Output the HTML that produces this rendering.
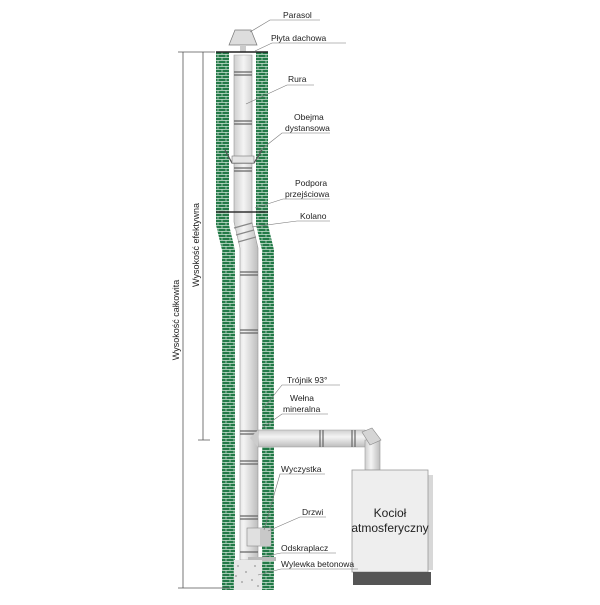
<!DOCTYPE html>
<html><head><meta charset="utf-8"><style>
body{margin:0;background:#fff}
svg text{font-family:"Liberation Sans",sans-serif;fill:#222}
</style></head><body>
<svg width="600" height="600" viewBox="0 0 600 600" xmlns="http://www.w3.org/2000/svg">
<defs>
<pattern id="br" width="8" height="6" patternUnits="userSpaceOnUse">
<rect width="8" height="6" fill="#237a48"/>
<path d="M0 0.4H8M0 3.4H8M2 0V3.4M6 3.4V6" stroke="#cfe3d5" stroke-width="0.7"/>
</pattern>
<linearGradient id="pg" x1="0" x2="1"><stop offset="0" stop-color="#cfcfcf"/><stop offset=".4" stop-color="#f4f4f4"/><stop offset="1" stop-color="#bdbdbd"/></linearGradient>
<linearGradient id="hg" x1="0" x2="0" y1="0" y2="1"><stop offset="0" stop-color="#cfcfcf"/><stop offset=".4" stop-color="#f4f4f4"/><stop offset="1" stop-color="#bdbdbd"/></linearGradient>
</defs>
<path d="M216 52H229V225L235 250V590H222V250L216 225Z" fill="url(#br)"/>
<path d="M256 52H268V225L274 250V590H262V250L256 225Z" fill="url(#br)"/>
<path d="M234 55H252V222L258 248V560H240V248L234 222Z" fill="url(#pg)" stroke="#999" stroke-width="0.6"/>
<g stroke="#666" stroke-width="1.2">
<path d="M234 72H252M234 75H252M234 121H252M234 124H252M234 168H252M234 171H252M240 272H258M240 275H258M240 330H258M240 333H258M240 431H258M240 434H258M240 461H258M240 464H258M240 516H258M240 519H258M240 552H258"/>
<path d="M234 228L252 223M236 235L254 230M238 242L256 237" stroke="#888"/>
</g>
<path d="M216 212H268" stroke="#333" stroke-width="1.5"/>
<path d="M225 150L232 163H254L262 150" fill="none" stroke="#555" stroke-width="1.2"/>
<rect x="232" y="156" width="22" height="7" fill="#e4e4e4" stroke="#777" stroke-width=".6"/>
<path d="M229 45L235 30H251L257 45Z" fill="#ddd" stroke="#777" stroke-width=".7"/>
<rect x="240" y="45" width="6" height="7" fill="#ccc"/>
<path d="M216 52H268" stroke="#222" stroke-width="1.5"/>
<path d="M258 430H365L372 440V447H258Z" fill="url(#hg)" stroke="#999" stroke-width=".6"/>
<path d="M250 438L258 430V447Z" fill="#ccc"/>
<g stroke="#666" stroke-width="1.2"><path d="M320 430V447M323 430V447M352 430V447M355 430V447"/></g>
<path d="M365 440H380V470H365Z" fill="url(#pg)" stroke="#999" stroke-width=".6"/>
<path d="M362 432L372 428L381 440L370 445Z" fill="#d5d5d5" stroke="#888" stroke-width=".6"/>
<rect x="247" y="528" width="24" height="18" fill="#e0e0e0" stroke="#888" stroke-width=".6"/>
<rect x="260" y="528" width="10" height="18" fill="#c8c8c8"/>
<rect x="248" y="557" width="28" height="4" fill="#bbb"/>
<rect x="234" y="560" width="28" height="30" fill="#e8e8e8"/>
<g fill="#aaa"><circle cx="238" cy="566" r="1"/><circle cx="246" cy="572" r="1"/><circle cx="255" cy="566" r="1"/><circle cx="242" cy="582" r="1"/><circle cx="252" cy="580" r="1"/><circle cx="258" cy="586" r="1"/><circle cx="236" cy="576" r="1"/></g>
<rect x="428" y="475" width="5" height="95" fill="#d8d8d8"/>
<rect x="352" y="470" width="76" height="102" fill="#eee" stroke="#999" stroke-width=".8"/>
<rect x="353" y="572" width="78" height="13" fill="#555"/>
<text x="390" y="517" font-size="12" text-anchor="middle">Kocioł</text>
<text x="390" y="532" font-size="12" text-anchor="middle">atmosferyczny</text>
<g stroke="#555" stroke-width=".8">
<path d="M183 52V588M178 52H215M178 588H230M203 52V440M198 440H210"/>
</g>
<text transform="translate(179 320) rotate(-90)" font-size="9" text-anchor="middle">Wysokość całkowita</text>
<text transform="translate(199 245) rotate(-90)" font-size="9" text-anchor="middle">Wysokość efektywna</text>
<g font-size="8.5">
<text x="283" y="18">Parasol</text>
<text x="271" y="41">Płyta dachowa</text>
<text x="288" y="82">Rura</text>
<text x="294" y="120">Obejma</text>
<text x="285" y="131">dystansowa</text>
<text x="295" y="186">Podpora</text>
<text x="285" y="197">przejściowa</text>
<text x="300" y="219">Kolano</text>
<text x="287" y="383">Trójnik 93°</text>
<text x="290" y="401">Wełna</text>
<text x="283" y="412">mineralna</text>
<text x="281" y="472">Wyczystka</text>
<text x="302" y="515">Drzwi</text>
<text x="281" y="551">Odskraplacz</text>
<text x="281" y="567">Wylewka betonowa</text>
</g>
<g stroke="#777" stroke-width=".6" fill="none">
<path d="M250 32L270 20H320M255 51L272 43H346M246 104L287 85H314M258 152L282 133H330M255 208L283 199H330M252 227L297 221H330M262 410L282 385H340M262 428L282 414H328M264 530L280 474H325M268 531L300 517H326M262 557L281 553H336M258 575L281 569H358"/>
</g>
</svg>
</body></html>
